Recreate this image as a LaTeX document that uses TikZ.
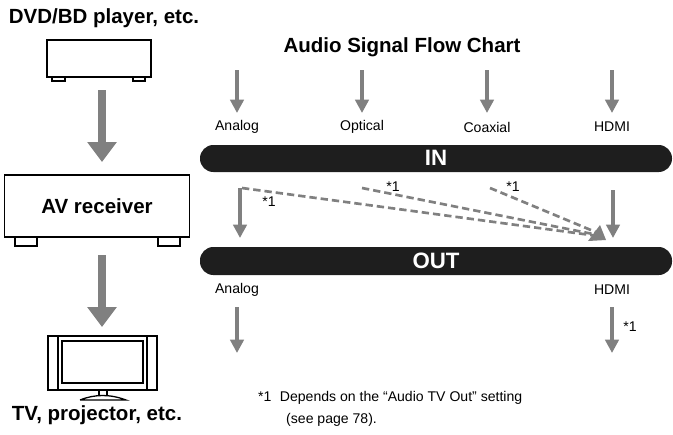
\documentclass[tikz,border=0pt]{standalone}
\usepackage{fontspec}
\setmainfont{Liberation Sans}
\usetikzlibrary{arrows.meta,positioning}
\definecolor{flowgray}{RGB}{128,128,128}
\definecolor{barblack}{RGB}{30,30,30}

\begin{document}
\begin{tikzpicture}[x=0.03cm,y=-0.03cm,% pixel grid of the reference
			every node/.style={inner sep=0pt},
			bigarrow/.style={draw=flowgray,line width=0.25cm,-{Triangle[length=0.6cm,width=0.85cm]}},
			smallarrow/.style={draw=flowgray,line width=0.12cm,-{Triangle[length=0.4cm,width=0.4cm]}},
			dasharrow/.style={draw=flowgray,line width=0.08cm,dash pattern=on 0.22cm off 0.12cm},
			devbox/.style={draw=black,line width=1.1pt,fill=white},
			bar/.style={fill=barblack,rounded corners=0.4cm},
			bartext/.style={text=white,font=\bfseries\fontsize{19}{22}\selectfont},
			port/.style={font=\fontsize{12}{14.5}\selectfont},
			star/.style={font=\fontsize{12}{14.5}\selectfont},
			heading/.style={font=\bfseries\fontsize{17.5}{20}\selectfont}
		]
		\useasboundingbox (0,0) rectangle (673,434);
		% devices on the left
		\node[heading](player lbl) at (104,18){DVD/BD player, etc.};
		\draw[devbox] (52,77) rectangle (65,81) (133,77) rectangle (145,81);
		\draw[devbox] (47,40) rectangle (151,77);
		\draw[devbox] (15,237) rectangle (37,246) (158,237) rectangle (180,246);
		\node[devbox,minimum width=5.55cm,minimum height=1.86cm,heading](avr) at (97,206){AV receiver};
		% TV
		\draw[devbox] (48,336) rectangle (157,390);
		\draw[devbox] (58,336) rectangle (147,390);
		\draw[devbox] (62,341) rectangle (143,383);
		\draw[devbox] (99,390) rectangle (107,396);
		\draw[devbox] (80,400) .. controls (95,394) and (110,394) .. (126,400) -- (80,400);
		\node[heading](tv lbl) at (97,415){TV, projector, etc.};
		\draw[bigarrow] (102,90) -- (102,162);
		\draw[bigarrow] (102,255) -- (102,327);
		% flow chart
		\node[heading](title) at (402,47){Audio Signal Flow Chart};
		\fill[bar] (200,145) rectangle (672,172);
		\node[bartext](in) at (436,158){IN};
		\fill[bar] (200,247) rectangle (672,275);
		\node[bartext](out) at (436,261){OUT};
		\foreach \x/\name in {237/Analog,362/Optical,487/Coaxial,612/HDMI}{
			\draw[smallarrow] (\x,70) -- (\x,113);
			\node[port] at (\x,127){\name};
		}
		\draw[smallarrow] (240,188) -- (240,238);
		\draw[smallarrow] (613,190) -- (613,238);
		\draw[dasharrow] (242,188) -- (598,236);
		\draw[dasharrow] (362,188) -- (598,235);
		\draw[dasharrow] (490,188) -- (598,233);
		\fill[flowgray] (606,240) -- (588,241) -- (600,225) -- cycle;
		\node[star] at (269,202){*1};
		\node[star] at (393,187){*1};
		\node[star] at (513,187){*1};
		\node[port] at (237,290){Analog};
		\node[port] at (612,290){HDMI};
		\draw[smallarrow] (237,307) -- (237,353);
		\draw[smallarrow] (612,307) -- (612,353);
		\node[star] at (630,327){*1};
		% footnote
		\node[port,anchor=west](note) at (258,398){*1\hspace{0.6em}Depends on the “Audio TV Out” setting};
		\node[port,anchor=west](note2) at (286,420){(see page 78).};
	\end{tikzpicture}
\end{document}
